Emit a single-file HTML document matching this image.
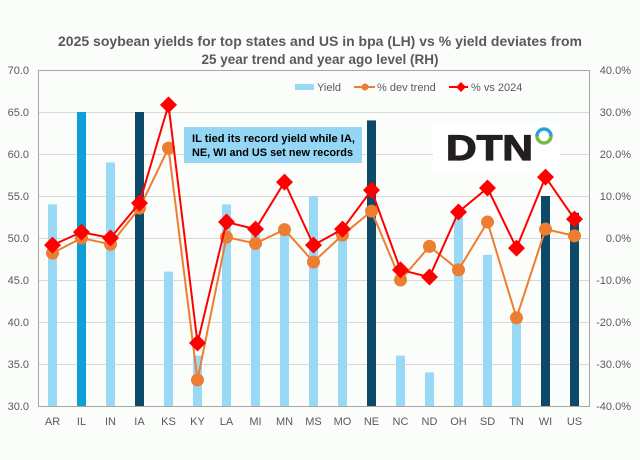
<!DOCTYPE html>
<html><head><meta charset="utf-8"><style>
html,body{margin:0;padding:0;background:#fbfdfb;}
svg{display:block;font-family:"Liberation Sans",Arial,sans-serif;}
</style></head><body>
<svg width="640" height="460" viewBox="0 0 640 460" xmlns="http://www.w3.org/2000/svg">
<rect width="640" height="460" fill="#fbfdfb"/>
<text x="320" y="46" text-anchor="middle" font-size="13.5" font-weight="bold" fill="#595959" textLength="524" lengthAdjust="spacingAndGlyphs">2025 soybean yields for top states and US in bpa (LH) vs % yield deviates from</text>
<text x="320" y="64" text-anchor="middle" font-size="13.5" font-weight="bold" fill="#595959">25 year trend and year ago level (RH)</text>
<g stroke="#d9d9d9" stroke-width="1">
<line x1="38" y1="112.5" x2="589" y2="112.5"/><line x1="38" y1="154.5" x2="589" y2="154.5"/>
<line x1="38" y1="196.5" x2="589" y2="196.5"/><line x1="38" y1="238.5" x2="589" y2="238.5"/>
<line x1="38" y1="280.5" x2="589" y2="280.5"/><line x1="38" y1="322.5" x2="589" y2="322.5"/>
<line x1="38" y1="364.5" x2="589" y2="364.5"/>
</g>
<rect x="38.5" y="70.5" width="551" height="336" fill="none" stroke="#a6a6a6"/>
<g font-size="11" fill="#595959" text-anchor="end">
<text x="29" y="74">70.0</text><text x="29" y="116">65.0</text><text x="29" y="158">60.0</text><text x="29" y="200">55.0</text><text x="29" y="242">50.0</text><text x="29" y="284">45.0</text><text x="29" y="326">40.0</text><text x="29" y="368">35.0</text><text x="29" y="410">30.0</text>
</g>
<g font-size="11" fill="#595959" text-anchor="end">
<text x="631" y="74">40.0%</text><text x="631" y="116">30.0%</text><text x="631" y="158">20.0%</text><text x="631" y="200">10.0%</text><text x="631" y="242">0.0%</text><text x="631" y="284">-10.0%</text><text x="631" y="326">-20.0%</text><text x="631" y="368">-30.0%</text><text x="631" y="410">-40.0%</text>
</g>
<g id="bars"></g>
<g font-size="11" fill="#595959" text-anchor="middle" id="xl"></g>
<rect x="433" y="122" width="127" height="50" fill="#ffffff"/>
<text x="446" y="160" font-size="35" font-weight="bold" fill="#231f20" textLength="87" lengthAdjust="spacingAndGlyphs" stroke="#231f20" stroke-width="1.2">DTN</text>
<path d="M537,136 a7,7 0 0 1 14,0" fill="none" stroke="#29a3dd" stroke-width="3.5"/>
<path d="M537,136 a7,7 0 0 0 14,0" fill="none" stroke="#7ab648" stroke-width="3.5"/>
<rect x="184" y="127" width="178" height="36" fill="#94d6f4"/>
<text x="192" y="142" font-size="11" font-weight="bold" fill="#000" textLength="163" lengthAdjust="spacingAndGlyphs">IL tied its record yield while IA,</text>
<text x="192" y="156" font-size="11" font-weight="bold" fill="#000" textLength="161" lengthAdjust="spacingAndGlyphs">NE, WI and US set new records</text>
<g id="lines"></g>
<rect x="295" y="84" width="19" height="6" fill="#99d9f5"/>
<text x="317" y="91" font-size="11" fill="#595959">Yield</text>
<line x1="354" y1="87" x2="375" y2="87" stroke="#ed7d31" stroke-width="2"/><circle cx="365" cy="87" r="3.5" fill="#ed7d31"/>
<text x="377" y="91" font-size="11" fill="#595959">% dev trend</text>
<line x1="449" y1="87" x2="468" y2="87" stroke="#ff0000" stroke-width="2"/><rect x="457.5" y="83.5" width="7" height="7" fill="#ff0000" transform="rotate(45 461 87)"/>
<text x="471" y="91" font-size="11" fill="#595959">% vs 2024</text>
</svg>
<script>
(function(){
var ns="http://www.w3.org/2000/svg";
var st=["AR","IL","IN","IA","KS","KY","LA","MI","MN","MS","MO","NE","NC","ND","OH","SD","TN","WI","US"];
var yv=[54,65,59,65,46,36,54,51,51,55,51,64,36,34,53,48,41,55,53];
var d=[-3.6,0,-1.5,7.1,21.4,-33.8,0.2,-1.3,2,-5.7,0.7,6.4,-10,-2,-7.6,3.8,-19,2.1,0.5];
var v=[-1.7,1.4,0,8.3,31.7,-25,3.8,2.1,13.3,-1.7,2.1,11.4,-7.6,-9.3,6.2,11.9,-2.4,14.5,4.5];
var bars=document.getElementById("bars"),xl=document.getElementById("xl"),ln=document.getElementById("lines");
function cx(i){return 52.5+i*29;}
function py(p){return 238-p*4.2;}
function el(t,a,p){var e=document.createElementNS(ns,t);for(var k in a)e.setAttribute(k,a[k]);p.appendChild(e);return e;}
for(var i=0;i<19;i++){
 var c="#99d9f5";if(st[i]=="IL")c="#0f9ed8";if(["IA","NE","WI","US"].indexOf(st[i])>=0)c="#0d4a6a";
 var by=406-(yv[i]-30)*8.4;
 el("rect",{x:cx(i)-4.5,y:by,width:9,height:406-by,fill:c},bars);
 var t=el("text",{x:cx(i),y:425},xl);t.textContent=st[i];
}
var p1="",p2="";
for(var i=0;i<19;i++){p1+=(i?"L":"M")+cx(i)+","+py(d[i]);p2+=(i?"L":"M")+cx(i)+","+py(v[i]);}
el("path",{d:p1,fill:"none",stroke:"#ed7d31","stroke-width":2},ln);
for(var i=0;i<19;i++)el("circle",{cx:cx(i),cy:py(d[i]),r:6.5,fill:"#ed7d31"},ln);
el("path",{d:p2,fill:"none",stroke:"#ff0000","stroke-width":2},ln);
for(var i=0;i<19;i++){var X=cx(i),Y=py(v[i]);el("path",{d:"M"+X+","+(Y-8.5)+"L"+(X+8.5)+","+Y+"L"+X+","+(Y+8.5)+"L"+(X-8.5)+","+Y+"Z",fill:"#ff0000"},ln);}
})();
</script>
</body></html>
